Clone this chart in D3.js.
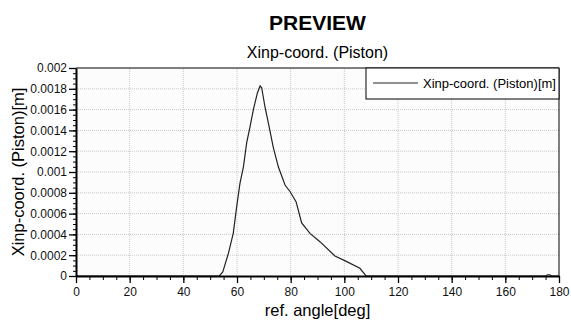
<!DOCTYPE html>
<html>
<head>
<meta charset="utf-8">
<script src="https://cdn.jsdelivr.net/npm/d3@7"></script>
<style>
  body { margin: 0; background: #fff; }
  svg { font-family: "Liberation Sans", Arial, sans-serif; }
</style>
</head>
<body>
<div id="chart"></div>
<script>
const angles = [0, 53.4, 54.7, 56.8, 58.6, 59.9, 61.1, 62.4, 63.6, 64.9, 66.1, 67.6, 68.6, 69.2,
  70.4, 71.7, 73.5, 75.4, 77.9, 79.8, 82, 84.1, 87.2, 90.9, 96.5, 100.9, 105.8, 108.1,
  175, 175.8, 176.6, 177.3, 180];
const values = [0, 0, 0.00004, 0.000218, 0.00041, 0.00067, 0.00089, 0.00105, 0.00128, 0.00144,
  0.0016, 0.00176, 0.001827, 0.00181, 0.00163, 0.00147, 0.00124, 0.00105, 0.000875, 0.00081,
  0.000715, 0.00051, 0.00041, 0.00033, 0.000192, 0.000138, 0.000074, 0,
  0, 0.000012, 0.000012, 0, 0];
const xTicks = [0, 20, 40, 60, 80, 100, 120, 140, 160, 180];
const yTicks = [0, 0.0002, 0.0004, 0.0006, 0.0008, 0.001, 0.0012, 0.0014, 0.0016, 0.0018, 0.002];
const seriesName = 'Xinp-coord. (Piston)[m]';

const width = 571, height = 323;
const margin = {left: 76, right: 12, top: 68, bottom: 47};

const svg = d3.select('#chart').append('svg')
    .attr('width', width)
    .attr('height', height);

const x = d3.scaleLinear().domain([0, 180]).range([margin.left, width - margin.right]);
const y = d3.scaleLinear().domain([0, 0.002]).range([height - margin.bottom, margin.top]);

// plot background
svg.append('rect')
    .attr('x', x(0)).attr('y', y(0.002))
    .attr('width', x(180) - x(0)).attr('height', y(0) - y(0.002))
    .style('fill', '#fcfcfc');

// grid
svg.append('g').selectAll('line.gx')
    .data(xTicks.slice(1, -1))
    .enter().append('line')
    .attr('x1', d => x(d)).attr('x2', d => x(d))
    .attr('y1', y(0)).attr('y2', y(0.002))
    .style('stroke', '#c8c8c8').style('stroke-dasharray', '1,1');
svg.append('g').selectAll('line.gy')
    .data(yTicks.slice(1, -1))
    .enter().append('line')
    .attr('y1', d => y(d)).attr('y2', d => y(d))
    .attr('x1', x(0)).attr('x2', x(180))
    .style('stroke', '#c8c8c8').style('stroke-dasharray', '1,1');

// frame top/right
svg.append('path')
    .attr('d', `M${x(0)},${y(0.002)}H${x(180)}V${y(0)}`)
    .style('fill', 'none').style('stroke', '#000').style('stroke-width', 1);

// curve
const line = d3.line().x((d, i) => x(angles[i])).y(d => y(d));
svg.append('path')
    .datum(values)
    .attr('d', line)
    .style('fill', 'none')
    .style('stroke', '#222')
    .style('stroke-width', 1.2);

// minor ticks
svg.append('g')
    .attr('transform', `translate(0,${y(0)})`)
    .call(d3.axisBottom(x).tickValues(d3.range(0, 181, 5)).tickSize(4).tickFormat(''))
    .call(g => g.select('.domain').remove());
svg.append('g')
    .attr('transform', `translate(${x(0)},0)`)
    .call(d3.axisLeft(y).tickValues(d3.range(0, 41).map(i => i * 0.00005)).tickSize(3).tickFormat(''))
    .call(g => g.select('.domain').remove());

// major axes
const xAxis = svg.append('g')
    .attr('transform', `translate(0,${y(0)})`)
    .call(d3.axisBottom(x).tickValues(xTicks).tickSize(7).tickSizeOuter(0).tickPadding(4));
const yAxis = svg.append('g')
    .attr('transform', `translate(${x(0)},0)`)
    .call(d3.axisLeft(y).tickValues(yTicks).tickSize(7).tickSizeOuter(0).tickPadding(2).tickFormat(d3.format('~g')));
[xAxis, yAxis].forEach(a => {
    a.select('.domain').style('stroke-width', 2);
    a.selectAll('.tick line').style('stroke-width', 1.3);
    a.selectAll('text').style('font-size', '12px').style('fill', '#111')
        .style('font-family', '"Liberation Sans", Arial, sans-serif');
});

// titles
svg.append('text')
    .attr('x', (x(0) + x(180)) / 2).attr('y', 30)
    .attr('text-anchor', 'middle')
    .style('font-weight', 'bold').style('font-size', '21px')
    .text('PREVIEW');
svg.append('text')
    .attr('x', (x(0) + x(180)) / 2).attr('y', 58)
    .attr('text-anchor', 'middle')
    .style('font-size', '16px')
    .text('Xinp-coord. (Piston)');
svg.append('text')
    .attr('x', (x(0) + x(180)) / 2).attr('y', 316)
    .attr('text-anchor', 'middle')
    .style('font-size', '16.5px')
    .text('ref. angle[deg]');
svg.append('text')
    .attr('transform', `translate(24,${(y(0) + y(0.002)) / 2}) rotate(-90)`)
    .attr('text-anchor', 'middle')
    .style('font-size', '16.5px')
    .text('Xinp-coord. (Piston)[m]');

// legend
const lg = svg.append('g');
lg.append('rect')
    .attr('x', 366).attr('y', y(0.002))
    .attr('width', x(180) - 366).attr('height', 31)
    .style('fill', '#fff').style('stroke', '#000').style('stroke-width', 1);
lg.append('line')
    .attr('x1', 373).attr('x2', 418)
    .attr('y1', y(0.002) + 15).attr('y2', y(0.002) + 15)
    .style('stroke', '#222').style('stroke-width', 1);
lg.append('text')
    .attr('x', 423).attr('y', y(0.002) + 19.5)
    .style('font-size', '13px')
    .text(seriesName);
</script>
</body>
</html>
